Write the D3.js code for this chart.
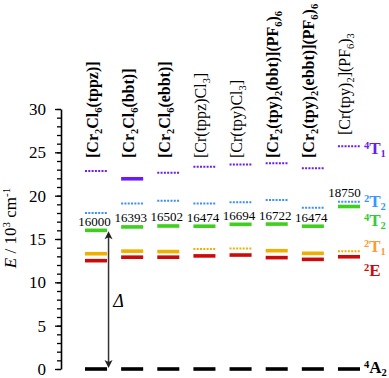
<!DOCTYPE html>
<html><head><meta charset="utf-8">
<script src="https://cdn.jsdelivr.net/npm/d3@7"></script>
<style>
body{margin:0;background:#fff}
svg{display:block}
text{font-family:"Liberation Serif","Times New Roman",Times,serif}
</style>
</head><body>
<svg id="c" width="389" height="378"></svg>
<script>
// ---------- data ----------
const compounds = ["[Cr_2Cl_6(tppz)]", "[Cr_2Cl_6(bbt)]", "[Cr_2Cl_6(ebbt)]", "[Cr(tppz)Cl_3]",
  "[Cr(tpy)Cl_3]", "[Cr_2(tpy)_2(bbt)](PF_6)_6", "[Cr_2(tpy)_2(ebbt)](PF_6)_6", "[Cr(tpy)_2](PF_6)_3"];
const boldCompound = [true, true, true, false, false, true, true, false];

const stateSup  = ["4", "2", "2", "4", "2", "4"];
const stateMain = ["A", "E", "T", "T", "T", "T"];
const stateSub  = ["2", "",  "1", "2", "2", "1"];

// energies in 10^3 cm^-1, one per compound
const E_4A2 = [0, 0, 0, 0, 0, 0, 0, 0];
const E_2E  = [12.5, 12.9, 12.9, 13.05, 13.15, 12.85, 12.65, 12.95];
const E_2T1 = [13.3, 13.6, 13.55, 13.85, 13.9, 13.65, 13.35, 13.6];
const E_4T2 = [16.000, 16.393, 16.502, 16.474, 16.694, 16.722, 16.474, 18.750];
const E_2T2 = [18.0, 19.1, 19.4, 19.1, 19.25, 19.5, 18.6, 19.3];
const E_4T1 = [22.85, 21.95, 22.65, 23.35, 23.6, 23.75, 23.15, 25.7];

// 1 = calculated (dotted), 0 = experimental (solid)
const calc_4A2 = [0, 0, 0, 0, 0, 0, 0, 0];
const calc_2E  = [0, 0, 0, 0, 0, 0, 0, 0];
const calc_2T1 = [0, 0, 0, 1, 1, 0, 0, 1];
const calc_4T2 = [0, 0, 0, 0, 0, 0, 0, 0];
const calc_2T2 = [1, 1, 1, 1, 1, 1, 1, 1];
const calc_4T1 = [1, 0, 1, 1, 1, 1, 1, 1];

const yTicks = [0, 5, 10, 15, 20, 25, 30];

// ---------- drawing ----------
const energies = [E_4A2, E_2E, E_2T1, E_4T2, E_2T2, E_4T1];
const calcs = [calc_4A2, calc_2E, calc_2T1, calc_4T2, calc_2T2, calc_4T1];
const barColor   = ["#000000", "#cc0a0a", "#f0b000", "#3fcf1f", "#3d8ef7", "#6a1cf2"];
const labelColor = ["#000000", "#cc0a0a", "#ff9a33", "#33cc33", "#3399ff", "#6a1cf2"];
const labelDy    = [4, 19, 1, 19, 5, 8]; // pixel offsets of state labels from last column level

const svg = d3.select("#c");
const y = d3.scaleLinear().domain([0, 30]).range([369, 109]);
const x = d3.scaleBand().domain(d3.range(compounds.length)).range([85, 360]).paddingInner(0.39).paddingOuter(0);
const bw = x.bandwidth();

// axis
const axis = svg.append("g").attr("transform", "translate(61,0)");
axis.call(d3.axisLeft(y).tickValues(d3.range(0, 31, 1)).tickSize(4).tickFormat(""))
  .call(g => g.select(".domain").remove());
axis.append("g").call(d3.axisLeft(y).tickValues(yTicks).tickSize(6).tickSizeOuter(0).tickPadding(9).tickFormat(d3.format("d")));
axis.selectAll("line").attr("stroke", "#000").attr("stroke-width", 1.3);
axis.selectAll(".domain").attr("stroke", "#000").attr("stroke-width", 1.6);
axis.selectAll("text").attr("font-size", 17).attr("font-family", "Liberation Serif").attr("fill", "#000");

// axis title
const title = svg.append("text").attr("transform", "translate(16,228) rotate(-90)")
  .attr("text-anchor", "middle").attr("font-size", 17);
title.append("tspan").attr("font-style", "italic").text("E");
title.append("tspan").text(" / 10");
title.append("tspan").attr("dy", -6).attr("font-size", 11).text("3");
title.append("tspan").attr("dy", 6).text(" cm");
title.append("tspan").attr("dy", -6).attr("font-size", 11).text("-1");

// levels
energies.forEach((arr, s) => {
  svg.append("g").selectAll("line").data(arr).join("line")
    .attr("x1", (d, i) => x(i)).attr("x2", (d, i) => x(i) + bw)
    .attr("y1", d => y(d)).attr("y2", d => y(d))
    .attr("stroke", barColor[s])
    .attr("stroke-width", (d, i) => calcs[s][i] ? 2 : 3.6)
    .attr("stroke-dasharray", (d, i) => calcs[s][i] ? "2,1.3" : null);
});

// 4T2 value labels
svg.append("g").selectAll("text").data(E_4T2).join("text")
  .attr("x", (d, i) => x(i) + bw / 2 - 1.5 - (i === compounds.length - 1 ? 3 : 0))
  .attr("y", (d, i) => (E_2T2[i] - d < 1 ? y(E_2T2[i]) : y(d)) - 4.5)
  .attr("text-anchor", "middle").attr("font-size", 13)
  .text(d => Math.round(d * 1000));

// compound labels (rotated)
function richText(sel, str, size) {
  const re = /_(\d)|([^_]+)/g; let m; let sub = false;
  while ((m = re.exec(str)) !== null) {
    if (m[1]) {
      sel.append("tspan").attr("dy", sub ? 0 : 4).attr("font-size", size * 0.65).text(m[1]);
      sub = true;
    } else {
      sel.append("tspan").attr("dy", sub ? -4 : 0).text(m[2]);
      sub = false;
    }
  }
}
compounds.forEach((c, i) => {
  const bottom = i === compounds.length - 1 ? 135 : 158;
  const t = svg.append("text")
    .attr("transform", `translate(${x(i) + bw / 2 + 1.5},${bottom}) rotate(-90)`)
    .attr("font-size", 16).attr("font-weight", boldCompound[i] ? "bold" : "normal");
  richText(t, c, 16);
});

// delta arrow
const last = compounds.length - 1;
const ax = x(0) + bw + 1.5, yTop = y(E_4T2[0]) + 1, yBot = y(0) - 1;
svg.append("line").attr("x1", ax).attr("x2", ax).attr("y1", yTop + 5).attr("y2", yBot - 5)
  .attr("stroke", "#333").attr("stroke-width", 1.5);
svg.append("path").attr("d", `M${ax},${yTop} L${ax - 4},${yTop + 8} L${ax},${yTop + 6} L${ax + 4},${yTop + 8} Z`).attr("fill", "#222");
svg.append("path").attr("d", `M${ax},${yBot} L${ax - 4},${yBot - 8} L${ax},${yBot - 6} L${ax + 4},${yBot - 8} Z`).attr("fill", "#222");
svg.append("text").attr("x", ax + 10).attr("y", (yTop + yBot) / 2 + 6 + 1)
  .attr("text-anchor", "middle").attr("font-size", 18).attr("font-style", "italic").text("Δ");

// state labels on right
energies.forEach((arr, s) => {
  const t = svg.append("text").attr("x", 364).attr("y", y(arr[last]) + labelDy[s])
    .attr("font-weight", "bold").attr("fill", labelColor[s]).attr("font-size", 17);
  t.append("tspan").attr("dy", -5).attr("font-size", 10.5).text(stateSup[s]);
  t.append("tspan").attr("dy", 5).text(stateMain[s]);
  if (stateSub[s]) t.append("tspan").attr("dy", 3).attr("font-size", 10.5).text(stateSub[s]);
});
</script>
</body></html>
